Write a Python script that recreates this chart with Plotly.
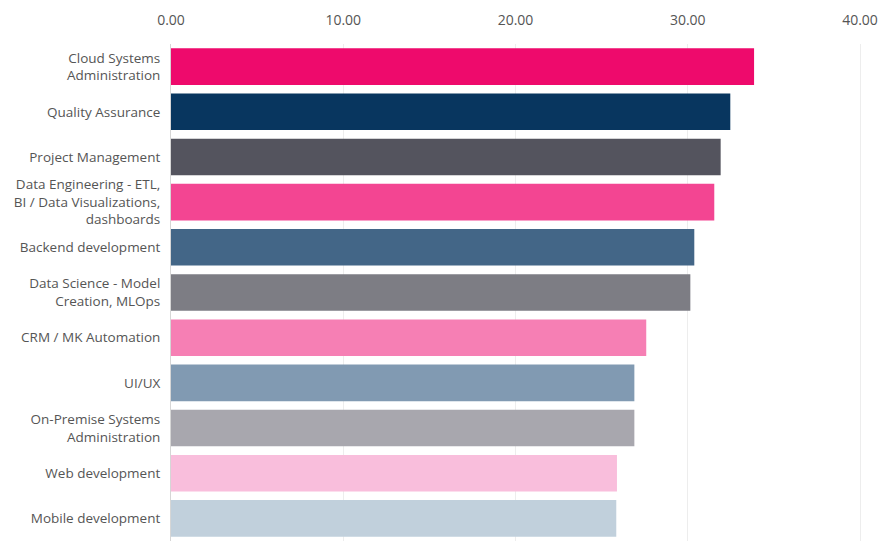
import plotly.graph_objects as go

# Skill areas, top to bottom, with their values
categories = [
    "Cloud Systems<br>Administration",
    "Quality Assurance",
    "Project Management",
    "Data Engineering - ETL,<br>BI / Data Visualizations,<br>dashboards",
    "Backend development",
    "Data Science - Model<br>Creation, MLOps",
    "CRM / MK Automation",
    "UI/UX",
    "On-Premise Systems<br>Administration",
    "Web development",
    "Mobile development",
]
values = [33.85, 32.47, 31.91, 31.54, 30.38, 30.15, 27.59, 26.9, 26.9, 25.89, 25.85]
colors = [
    "#EE0A6C", "#08365F", "#54545E", "#F34592", "#436687", "#7D7D84",
    "#F67FB4", "#819AB2", "#A8A7AE", "#F9BEDC", "#C1D0DC",
]
x_ticks = [0, 10, 20, 30, 40]
x_tick_labels = ["0.00", "10.00", "20.00", "30.00", "40.00"]

fig = go.Figure(
    go.Bar(
        x=values,
        y=categories,
        orientation="h",
        marker=dict(color=colors, line=dict(width=0)),
        hovertemplate="%{y}: %{x:.2f}<extra></extra>",
    )
)

fig.update_layout(
    width=878,
    height=546,
    margin=dict(l=171, r=8, t=44, b=5, autoexpand=False),
    paper_bgcolor="white",
    plot_bgcolor="white",
    bargap=0.19,
    showlegend=False,
    font=dict(family="'Open Sans', Lato, sans-serif", size=14, color="#555555"),
)

fig.update_xaxes(
    side="top",
    range=[0, 40.58],
    tickvals=x_ticks,
    ticktext=x_tick_labels,
    showgrid=True,
    gridcolor="#EDEDED",
    gridwidth=1,
    zeroline=False,
    showline=False,
    ticks="",
    automargin=False,
    ticklabelstandoff=15,
    ticklabeloverflow="allow",
    tickfont=dict(size=14, color="#555555"),
)

fig.update_yaxes(
    autorange="reversed",
    showgrid=False,
    zeroline=False,
    showline=True,
    linecolor="#D6D6D6",
    linewidth=1,
    ticks="",
    automargin=False,
    ticklabelstandoff=7,
    tickfont=dict(size=13.5, color="#555555"),
)

fig.write_html("out.html")
